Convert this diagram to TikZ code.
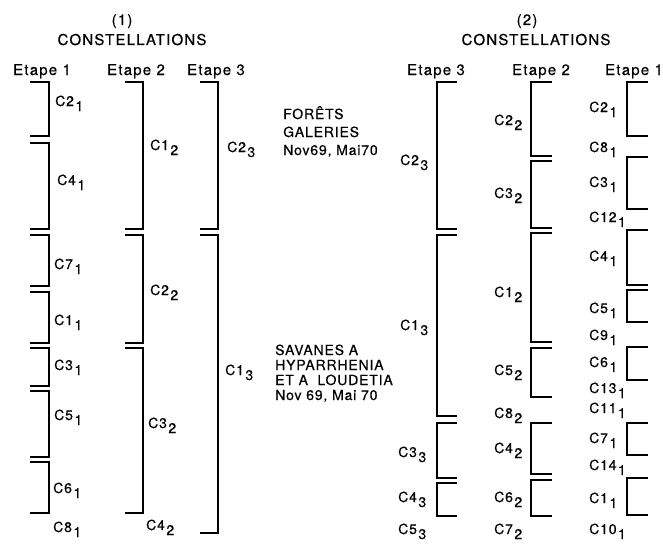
\documentclass[tikz,border=0pt]{standalone}
\usepackage{fontspec}
\setmainfont[FakeBold=0.5]{TeX Gyre Heros}
\newfontfamily\hdrfam[LetterSpace=8,FakeBold=0.5]{TeX Gyre Heros}
\newfontfamily\labfam[LetterSpace=6,FakeBold=0.5]{TeX Gyre Heros}
\newcommand\lab[2]{#1\kern1.5pt\raisebox{-5pt}{#2}}
\newcommand\BR[4]{\draw[br] (#2,#3) -- (#1,#3) -- (#1,#4) -- (#2,#4);}
\begin{document}
\begin{tikzpicture}[x=1pt,y=-1pt,
  br/.style={line width=1.6pt, line join=miter},
  lbl/.style={font=\labfam\fontsize{14}{14}\selectfont, inner sep=0pt, anchor=base west},
  hdr/.style={font=\hdrfam\fontsize{15}{15}\selectfont, inner sep=0pt, anchor=base},
  txt/.style={inner sep=0pt, anchor=base west, align=left}]
\useasboundingbox (0,0) rectangle (663,543);
% headers
\node[hdr] (h1) at (122,25) {(1)};
\node[hdr] (c1) at (132,45) {CONSTELLATIONS};
\node[hdr] (e11) at (42,75) {Etape 1};
\node[hdr] (e12) at (136,75) {Etape 2};
\node[hdr] (e13) at (216,75) {Etape 3};
\node[hdr] (h2) at (527,25) {(2)};
\node[hdr] (c2) at (536,45) {CONSTELLATIONS};
\node[hdr] (e23) at (436,75) {Etape 3};
\node[hdr] (e22) at (541,75) {Etape 2};
\node[hdr] (e21) at (634,75) {Etape 1};
% middle texts (anchor: baseline of last line)
\node[txt, font=\labfam\fontsize{14}{18}\selectfont] (foret) at (283,155) {FORÊTS\\GALERIES\\Nov69, Mai70};
\node[txt, font=\labfam\fontsize{14}{15}\selectfont] (sav) at (275,400) {SAVANES A\\HYPARRHENIA\\ET A\ \ LOUDETIA\\Nov 69, Mai 70};
% left group, Etape 1
\BR{49}{30}{82}{136}
\BR{49}{30}{143}{229}
\BR{49}{30}{235}{286}
\BR{49}{30}{292}{343}
\BR{49}{30}{348}{386}
\BR{49}{30}{391}{457}
\BR{49}{30}{462}{513}
\node[lbl] (a1) at (55,106) {\lab{C2}{1}};
\node[lbl] (a2) at (57,185) {\lab{C4}{1}};
\node[lbl] (a3) at (54,269) {\lab{C7}{1}};
\node[lbl] (a4) at (54,325) {\lab{C1}{1}};
\node[lbl] (a5) at (54,370) {\lab{C3}{1}};
\node[lbl] (a6) at (54,420) {\lab{C5}{1}};
\node[lbl] (a7) at (53,493) {\lab{C6}{1}};
\node[lbl] (a8) at (53,532) {\lab{C8}{1}};
% left group, Etape 2
\BR{143}{125}{82}{229}
\BR{143}{125}{235}{343}
\BR{143}{125}{348}{513}
\node[lbl] (b1) at (150,150) {\lab{C1}{2}};
\node[lbl] (b2) at (150,295) {\lab{C2}{2}};
\node[lbl] (b3) at (148,428) {\lab{C3}{2}};
\node[lbl] (b4) at (146,530) {\lab{C4}{2}};
% left group, Etape 3
\BR{218}{200}{82}{229}
\BR{218}{200}{235}{533}
\node[lbl] (d1) at (227,152) {\lab{C2}{3}};
\node[lbl] (d2) at (225,375) {\lab{C1}{3}};
% right group, Etape 3
\BR{437}{457}{82}{229}
\BR{437}{457}{235}{416}
\BR{437}{457}{423}{478}
\BR{437}{457}{483}{516}
\node[lbl] (f1) at (400,165) {\lab{C2}{3}};
\node[lbl] (f2) at (400,330) {\lab{C1}{3}};
\node[lbl] (f3) at (398,457) {\lab{C3}{3}};
\node[lbl] (f4) at (398,502) {\lab{C4}{3}};
\node[lbl] (f5) at (398,534) {\lab{C5}{3}};
% right group, Etape 2
\BR{531}{552}{82}{156}
\BR{531}{552}{161}{228}
\BR{531}{552}{233}{342}
\BR{531}{552}{348}{397}
\BR{531}{552}{423}{474}
\BR{531}{552}{480}{516}
\node[lbl] (g1) at (494,125) {\lab{C2}{2}};
\node[lbl] (g2) at (494,198) {\lab{C3}{2}};
\node[lbl] (g3) at (494,297) {\lab{C1}{2}};
\node[lbl] (g4) at (494,375) {\lab{C5}{2}};
\node[lbl] (g5) at (494,418) {\lab{C8}{2}};
\node[lbl] (g6) at (494,453) {\lab{C4}{2}};
\node[lbl] (g7) at (494,502) {\lab{C6}{2}};
\node[lbl] (g8) at (494,534) {\lab{C7}{2}};
% right group, Etape 1
\BR{627}{648}{82}{136}
\BR{627}{648}{157}{209}
\BR{627}{648}{230}{285}
\BR{627}{648}{290}{322}
\BR{627}{648}{347}{380}
\BR{627}{648}{423}{455}
\BR{627}{648}{478}{515}
\node[lbl] (k1) at (589,112) {\lab{C2}{1}};
\node[lbl] (k2) at (589,152) {\lab{C8}{1}};
\node[lbl] (k3) at (589,187) {\lab{C3}{1}};
\node[lbl] (k4) at (589,222) {\lab{C12}{1}};
\node[lbl] (k5) at (589,261) {\lab{C4}{1}};
\node[lbl] (k6) at (589,313) {\lab{C5}{1}};
\node[lbl] (k7) at (589,340) {\lab{C9}{1}};
\node[lbl] (k8) at (589,367) {\lab{C6}{1}};
\node[lbl] (k9) at (589,393) {\lab{C13}{1}};
\node[lbl] (k10) at (589,413) {\lab{C11}{1}};
\node[lbl] (k11) at (589,443) {\lab{C7}{1}};
\node[lbl] (k12) at (589,470) {\lab{C14}{1}};
\node[lbl] (k13) at (589,503) {\lab{C1}{1}};
\node[lbl] (k14) at (589,534) {\lab{C10}{1}};
\end{tikzpicture}
\end{document}
